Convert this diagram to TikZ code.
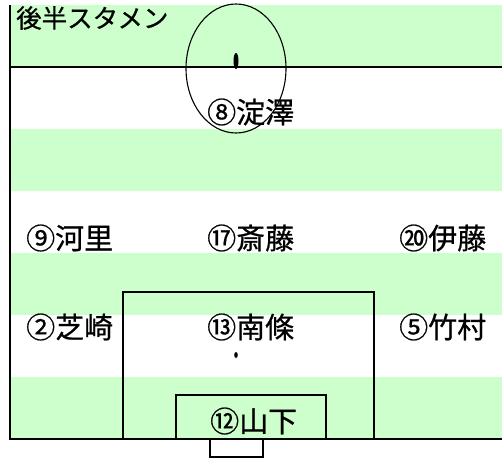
\documentclass[tikz,border=0pt]{standalone}
\usepackage{fontspec}
\newfontfamily\jp[FakeBold=0.6]{Noto Sans CJK JP}
\definecolor{pitch}{RGB}{204,255,204}
\begin{document}
\begin{tikzpicture}[x=1pt,y=-1pt,
  boldline/.style={line width=2.4pt},
  thinline/.style={line width=1.1pt},
  player/.style={anchor=west, inner sep=0pt, font=\jp\fontsize{29}{29}\selectfont},
  titletext/.style={anchor=west, inner sep=0pt, font=\jp\fontsize{25.5}{25.5}\selectfont}]
\useasboundingbox (0,0) rectangle (502,458);
\fill[white] (0,0) rectangle (502,458);
% stripes
\foreach \yy in {5,129,253,377} {\fill[pitch] (10,\yy) rectangle (502,\yy+62);}
% penalty box and goal area
\draw[thinline] (123,439) -- (123,292) -- (374,292) -- (374,439);
\draw[thinline] (176,439) -- (176,395) -- (326,395) -- (326,439);
% goal
\draw[thinline, fill=white] (210,439) rectangle (263,457);
% centre circle and spots
\draw[thinline] (236,68.5) ellipse [x radius=50pt, y radius=64.5pt];
\fill (236,61) ellipse [x radius=2.5pt, y radius=8pt];
\fill (236,355) ellipse [x radius=1.8pt, y radius=3pt];
% boundary lines
\draw[boldline] (10,5) -- (10,439);
\draw[boldline] (9,67) -- (502,67);
\draw[boldline] (9,439) -- (502,439);
% texts
\node[titletext] (title) at (16,18) {後半スタメン};
\node[player] (p8)  at (207,112) {⑧淀澤};
\node[player] (p9)  at (26,238)  {⑨河里};
\node[player] (p17) at (207,238) {⑰斎藤};
\node[player] (p20) at (399,238) {⑳伊藤};
\node[player] (p2)  at (26,327)  {②芝崎};
\node[player] (p13) at (207,327) {⑬南條};
\node[player] (p5)  at (399,327) {⑤竹村};
\node[player] (p12) at (210,421) {⑫山下};
\end{tikzpicture}
\end{document}
